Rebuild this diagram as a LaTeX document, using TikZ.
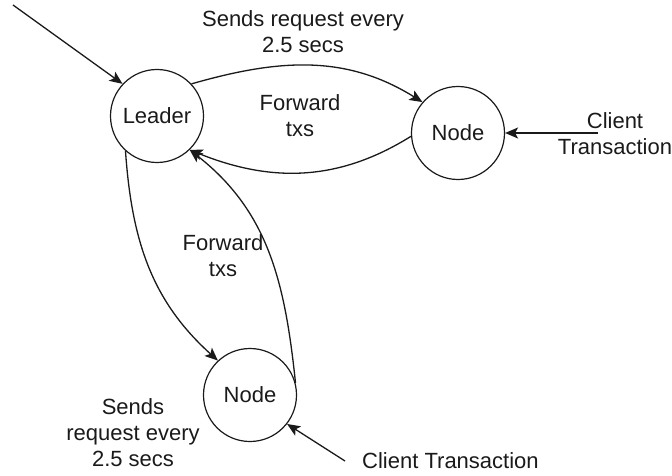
\documentclass[tikz,border=0pt]{standalone}
\usepackage{fontspec}
\setmainfont{Liberation Sans}
\usetikzlibrary{arrows.meta}
\definecolor{lfdark}{RGB}{26,26,26}
\def\lfNodeD{93}

\begin{document}
\begin{tikzpicture}[
    x=1pt, y=-1pt,
    lfnode/.style = {circle, draw=lfdark, line width=1.2pt, minimum size=\lfNodeD pt,
                     inner sep=0pt, font=\fontsize{22}{26}\selectfont, text=lfdark},
    lfarr/.style  = {-{Stealth[length=13pt,width=11pt,inset=3pt]}, draw=lfdark, line width=1.3pt},
    lflbl/.style  = {font=\fontsize{22}{26}\selectfont, text=lfdark, align=center, inner sep=0pt}]

  \useasboundingbox (0,0) rectangle (672,476);

  %% ---- states -----------------------------------------------------
  \node[lfnode] (leader) at (157,116) {Leader};
  \node[lfnode] (nodeR)  at (458,133) {Node};
  \node[lfnode] (nodeB)  at (250,395) {Node};

  \coordinate (entry)   at (13,5);
  \coordinate (clientR) at (598,133);
  \coordinate (clientB) at (345,461);

  %% ---- leader <-> right node ---------------------------------------
  \draw[lfarr] (leader.43) to[out=16,in=148] (nodeR.139);
  \draw[lfarr] (nodeR.184) to[out=212,in=-22] (leader.314);
  \node[lflbl] (reqR) at (303,32)  {Sends request every\\2.5 secs};
  \node[lflbl] (fwdR) at (300,116) {Forward\\txs};

  %% ---- leader <-> bottom node --------------------------------------
  \draw[lfarr] (leader.228) to[out=-86,in=138] (nodeB.133);
  \draw[lfarr] (nodeB.15) to[out=96,in=-38] (leader.314);
  \node[lflbl] (fwdB) at (223,256) {Forward\\txs};
  \node[lflbl] (reqB) at (133,433) {Sends\\request every\\2.5 secs};

  %% ---- inputs ------------------------------------------------------
  \draw[lfarr] (entry) -- (leader.137);
  \draw[lfarr] (clientR) -- (nodeR.east);
  \node[lflbl] (txR) at (615,134) {Client\\Transaction};
  \draw[lfarr] (clientB) -- (nodeB.-38);
  \node[lflbl, anchor=west] (txB) at (362,461) {Client Transaction};
\end{tikzpicture}
\end{document}
